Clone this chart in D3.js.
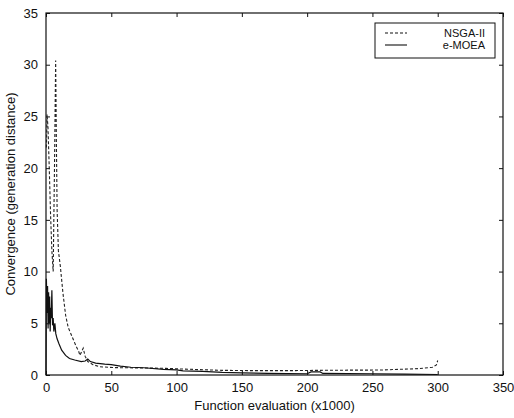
<!DOCTYPE html>
<html>
<head>
<meta charset="utf-8">
<script src="https://cdn.jsdelivr.net/npm/d3@7"></script>
<style>
  body { margin: 0; background: #fff; }
  text { font-family: "Liberation Sans", Arial, sans-serif; fill: #111; }
</style>
</head>
<body>
<div class="canva"></div>
<script>
// data (x in thousands of evaluations)
const nsgaX = [0.3, 0.8, 1.5, 2.5, 3.5, 4.5, 5.5, 6.5, 7.4, 8, 8.5, 9.5, 11, 13, 15, 17, 20, 23, 25, 26, 28.5, 30, 32, 36, 41, 51, 60, 75, 92, 110, 135, 160, 187, 217, 256, 286, 296, 299, 300];
const nsgaY = [22, 25.2, 24, 20, 15.5, 12, 10, 20, 30.4, 22, 16, 12, 10.5, 7.9, 5.8, 4.6, 3.7, 2.8, 2.3, 1.9, 2.6, 1.8, 1.3, 1.0, 0.8, 0.72, 0.7, 0.68, 0.64, 0.55, 0.45, 0.42, 0.42, 0.46, 0.48, 0.62, 0.75, 0.97, 1.4];

const moeaX = [0, 0.3, 0.8, 1.2, 1.6, 2, 2.4, 2.8, 3.2, 3.6, 4, 4.5, 5, 5.5, 6, 6.8, 7.5, 8.5, 10, 12, 15, 18, 22, 27, 30, 32, 34, 38, 45, 50, 57, 65, 75, 90, 100, 105, 120, 135, 150, 170, 200, 203, 210, 212, 250, 275, 300];
const moeaY = [0, 9.3, 6, 8.6, 4.5, 8, 5, 7.6, 4.2, 6.5, 5.5, 8.2, 4.8, 5.5, 4.2, 5.0, 4.0, 3.5, 3.0, 2.4, 1.9, 1.6, 1.45, 1.3, 1.35, 1.55, 1.3, 1.15, 1.05, 1.0, 0.85, 0.75, 0.7, 0.55, 0.5, 0.4, 0.35, 0.25, 0.2, 0.15, 0.12, 0.3, 0.3, 0.15, 0.12, 0.08, 0.05];

const xTicks = [0, 50, 100, 150, 200, 250, 300, 350];
const yTicks = [0, 5, 10, 15, 20, 25, 30, 35];
const seriesNames = ["NSGA-II", "e-MOEA"];

const W = 514, H = 418;
const m = { left: 46, right: 11, top: 13, bottom: 43 };

const svg = d3.select(".canva").append("svg").attr("width", W).attr("height", H);

const x = d3.scaleLinear().domain([0, 350]).range([m.left, W - m.right]);
const y = d3.scaleLinear().domain([0, 35]).range([H - m.bottom, m.top]);

const line = d3.line().x(d => x(d[0])).y(d => y(d[1]));

// frame with inward ticks on all sides
svg.append("g")
  .attr("transform", `translate(0,${H - m.bottom})`)
  .call(d3.axisBottom(x).tickValues(xTicks).tickSize(-4).tickPadding(8).tickFormat(d3.format("d")))
  .call(g => g.select(".domain").remove());
svg.append("g")
  .attr("transform", `translate(0,${m.top})`)
  .call(d3.axisTop(x).tickValues(xTicks).tickSize(-4).tickFormat(""))
  .call(g => g.select(".domain").remove());
svg.append("g")
  .attr("transform", `translate(${m.left},0)`)
  .call(d3.axisLeft(y).tickValues(yTicks).tickSize(-4).tickPadding(8).tickFormat(d3.format("d")))
  .call(g => g.select(".domain").remove());
svg.append("g")
  .attr("transform", `translate(${W - m.right},0)`)
  .call(d3.axisRight(y).tickValues(yTicks).tickSize(-4).tickFormat(""))
  .call(g => g.select(".domain").remove());

svg.selectAll(".tick text").attr("font-size", 13).attr("font-family", "Liberation Sans, Arial, sans-serif").attr("fill", "#111");
svg.selectAll(".tick line").attr("stroke", "#111");

svg.append("rect")
  .attr("x", m.left).attr("y", m.top)
  .attr("width", W - m.left - m.right).attr("height", H - m.top - m.bottom)
  .attr("fill", "none").attr("stroke", "#111").attr("stroke-width", 1.2);

// series
svg.append("path")
  .datum(nsgaX.map((v, i) => [v, nsgaY[i]]))
  .attr("d", line)
  .attr("fill", "none").attr("stroke", "#222").attr("stroke-width", 1.1)
  .attr("stroke-dasharray", "3,2");

svg.append("path")
  .datum(moeaX.map((v, i) => [v, moeaY[i]]))
  .attr("d", line)
  .attr("fill", "none").attr("stroke", "#111").attr("stroke-width", 1.2);

// axis titles
svg.append("text")
  .text("Function evaluation (x1000)")
  .attr("x", (m.left + W - m.right) / 2).attr("y", 410)
  .attr("text-anchor", "middle").attr("font-size", 13);

svg.append("text")
  .text("Convergence (generation distance)")
  .attr("transform", `translate(15,${(m.top + H - m.bottom) / 2}) rotate(-90)`)
  .attr("text-anchor", "middle").attr("font-size", 13);

// legend
const lg = svg.append("g");
lg.append("rect")
  .attr("x", 375).attr("y", 23).attr("width", 120).attr("height", 35)
  .attr("fill", "#fff").attr("stroke", "#111").attr("stroke-width", 1);
seriesNames.forEach((name, i) => {
  const ly = 33 + i * 12;
  lg.append("line")
    .attr("x1", 385).attr("x2", 407).attr("y1", ly).attr("y2", ly)
    .attr("stroke", "#111").attr("stroke-width", 1.1)
    .attr("stroke-dasharray", i === 0 ? "3,2" : null);
  lg.append("text")
    .text(name)
    .attr("x", 485).attr("y", ly + 3.5)
    .attr("text-anchor", "end").attr("font-size", 11);
});
</script>
</body>
</html>
